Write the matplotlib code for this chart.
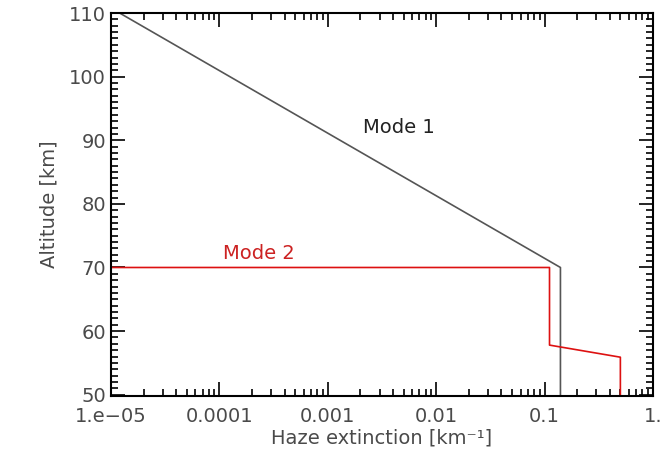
import matplotlib.pyplot as plt
import numpy as np
from matplotlib.ticker import FixedLocator, MultipleLocator, LogLocator, NullFormatter

# haze extinction profiles [km^-1] vs altitude [km]
mode1_ext = [1.2e-5, 0.14, 0.14]
mode1_alt = [110, 70, 49.8]
mode2_ext = [1e-5, 0.111, 0.111, 0.5, 0.5]
mode2_alt = [70, 70, 57.8, 55.9, 49.8]

xticks = [1e-5, 1e-4, 1e-3, 1e-2, 1e-1, 1]
xtick_labels = ["1.e\u221205", "0.0001", "0.001", "0.01", "0.1", "1."]
yticks = [50, 60, 70, 80, 90, 100, 110]

txt = "#4a4a4a"
plt.rcParams['font.family'] = 'DejaVu Sans'

fig = plt.figure(figsize=(6.69, 4.61), dpi=100)
ax = fig.add_axes([111 / 669, 1 - 396 / 461, (653 - 111) / 669, (396 - 13) / 461])

ax.plot(mode1_ext, mode1_alt, color="#555555", lw=1.2)
ax.plot(mode2_ext, mode2_alt, color="#dd1111", lw=1.2)

ax.set_xscale("log")
ax.set_xlim(1e-5, 1)
ax.set_ylim(49.8, 110)

ax.xaxis.set_major_locator(FixedLocator(xticks))
ax.set_xticklabels(xtick_labels)
ax.xaxis.set_minor_locator(LogLocator(base=10, subs=np.arange(2, 10)))
ax.xaxis.set_minor_formatter(NullFormatter())
ax.yaxis.set_major_locator(FixedLocator(yticks))
ax.yaxis.set_minor_locator(MultipleLocator(1))

ax.tick_params(which="both", direction="in", top=True, right=True, width=1.2, colors="black",
               labelcolor=txt, labelsize=14)
ax.tick_params(which="major", length=10)
ax.tick_params(which="minor", length=5)
ax.tick_params(axis="x", pad=8)
for s in ax.spines.values():
    s.set_linewidth(1.5)

ax.set_xlabel("Haze extinction [km\u207b\u00b9]", fontsize=14, color=txt, labelpad=2)
ax.set_ylabel("Altitude [km]", fontsize=14, color=txt, labelpad=8)

ax.text(10 ** -2.34, 92.0, "Mode 1", fontsize=14, color="#222222", ha="center", va="center")
ax.text(10 ** -3.64, 72.2, "Mode 2", fontsize=14, color="#cc2222", ha="center", va="center")

fig.savefig("out.png", dpi=100)
